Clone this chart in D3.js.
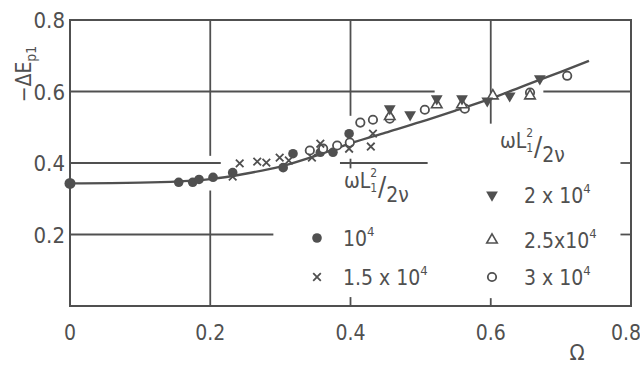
<!DOCTYPE html>
<html>
<head>
<meta charset="utf-8">
<script src="https://cdn.jsdelivr.net/npm/d3@7"></script>
<style>
  body { margin: 0; background: #fff; }
  svg { display: block; }
  text { font-family: "DejaVu Sans Condensed", "Liberation Sans Narrow", "DejaVu Sans", sans-serif; fill: #505050; }
</style>
</head>
<body>
<svg width="640" height="365"></svg>
<script>
// ticks
var xTicks = [0, 0.2, 0.4, 0.6, 0.8];
var yTicks = [0.2, 0.4, 0.6, 0.8];

// fitted curve
var curveOmega = [0, 0.1, 0.2, 0.25, 0.3, 0.35, 0.4, 0.45, 0.5, 0.55, 0.6, 0.65, 0.7, 0.74];
var curveE     = [0.343, 0.345, 0.355, 0.37, 0.39, 0.42, 0.455, 0.485, 0.515, 0.547, 0.58, 0.618, 0.655, 0.686];

// measured points per series
var s1x  = [0.155, 0.175, 0.184, 0.204, 0.232, 0.304, 0.318, 0.357, 0.375, 0.398];
var s1y  = [0.346, 0.346, 0.354, 0.360, 0.373, 0.387, 0.426, 0.430, 0.430, 0.482];
var s15x = [0.232, 0.242, 0.267, 0.280, 0.299, 0.312, 0.345, 0.357, 0.398, 0.429, 0.432];
var s15y = [0.362, 0.399, 0.404, 0.401, 0.415, 0.407, 0.415, 0.454, 0.440, 0.446, 0.482];
var s2x  = [0.456, 0.485, 0.523, 0.559, 0.595, 0.627, 0.670];
var s2y  = [0.552, 0.535, 0.580, 0.580, 0.574, 0.588, 0.636];
var s25x = [0.456, 0.523, 0.559, 0.603, 0.656];
var s25y = [0.530, 0.563, 0.563, 0.588, 0.588];
var s3x  = [0.342, 0.361, 0.381, 0.399, 0.414, 0.432, 0.456, 0.506, 0.563, 0.656, 0.709];
var s3y  = [0.435, 0.440, 0.449, 0.457, 0.513, 0.521, 0.524, 0.549, 0.552, 0.597, 0.644];
var startPoint = [0, 0.343];

// broken grid lines of the original figure (value, from, to)
var hGrid = [[0.6, 0, 0.52], [0.6, 0.675, 0.8], [0.4, 0, 0.215], [0.4, 0.385, 0.51], [0.4, 0.785, 0.8],
             [0.2, 0, 0.29], [0.2, 0.785, 0.8]];
var vGrid = [[0.2, 0, 0.323], [0.2, 0.42, 0.8], [0.4, 0.532, 0.8], [0.4, 0.385, 0.412], [0.4, 0, 0.025],
             [0.6, 0.51, 0.8], [0.6, 0, 0.022]];

var ink = "#505050";
var svg = d3.select("svg");
var x = d3.scaleLinear().domain([0, 0.8]).range([70, 631]);
var y = d3.scaleLinear().domain([0, 0.8]).range([306, 20]);

// frame
svg.append("rect")
    .attr("x", x(0)).attr("y", y(0.8))
    .attr("width", x(0.8) - x(0)).attr("height", y(0) - y(0.8))
    .attr("fill", "none").attr("stroke", ink).attr("stroke-width", 2);

svg.selectAll(".hg").data(hGrid).enter().append("line")
    .attr("x1", d => x(d[1])).attr("x2", d => x(d[2]))
    .attr("y1", d => y(d[0])).attr("y2", d => y(d[0]))
    .attr("stroke", ink).attr("stroke-width", 1.8);
svg.selectAll(".vg").data(vGrid).enter().append("line")
    .attr("x1", d => x(d[0])).attr("x2", d => x(d[0]))
    .attr("y1", d => y(d[1])).attr("y2", d => y(d[2]))
    .attr("stroke", ink).attr("stroke-width", 1.8);

// tick labels
svg.selectAll(".xt").data(xTicks).enter().append("text")
    .attr("x", d => x(d) + (d === 0.8 ? -5 : 0)).attr("y", 340)
    .attr("text-anchor", "middle").attr("font-size", 21)
    .text(d => d === 0 ? "0" : d3.format(".1f")(d));
svg.selectAll(".yt").data(yTicks).enter().append("text")
    .attr("x", 65).attr("y", d => y(d) + 8)
    .attr("text-anchor", "end").attr("font-size", 22)
    .text(d => d3.format(".1f")(d));

// axis titles
svg.append("text").attr("x", 577).attr("y", 360).attr("text-anchor", "middle")
    .attr("font-size", 22).text("Ω");
var yt = svg.append("text").attr("transform", "translate(31,74) rotate(-90)")
    .attr("text-anchor", "middle").attr("font-size", 21);
yt.append("tspan").text("−ΔE");
yt.append("tspan").attr("font-size", 14).attr("dy", 5).text("p1");

// curve
var line = d3.line().curve(d3.curveMonotoneX).x(d => x(d[0])).y(d => y(d[1]));
svg.append("path").datum(curveOmega.map((o, i) => [o, curveE[i]]))
    .attr("d", line).attr("fill", "none").attr("stroke", ink).attr("stroke-width", 2.4);
svg.append("circle").attr("cx", x(startPoint[0])).attr("cy", y(startPoint[1])).attr("r", 5.5).attr("fill", ink);

// markers
var sym = {
  dot:   g => g.append("circle").attr("r", 4.8).attr("fill", ink),
  cross: g => g.append("path").attr("d", "M-3.8,-3.8L3.8,3.8M-3.8,3.8L3.8,-3.8").attr("stroke", ink).attr("stroke-width", 1.8),
  down:  g => g.append("path").attr("d", d3.symbol(d3.symbolTriangle, 60)()).attr("transform", "rotate(180)").attr("fill", ink),
  up:    g => g.append("path").attr("d", d3.symbol(d3.symbolTriangle, 48)()).attr("fill", "#fff").attr("stroke", ink).attr("stroke-width", 1.6),
  ring:  g => g.append("circle").attr("r", 4.2).attr("fill", "#fff").attr("stroke", ink).attr("stroke-width", 1.8)
};

function plotSeries(xs, ys, kind) {
  xs.forEach(function(v, i) {
    var g = svg.append("g").attr("transform", "translate(" + x(v) + "," + y(ys[i]) + ")");
    sym[kind](g);
  });
}
plotSeries(s1x, s1y, "dot");
plotSeries(s3x, s3y, "ring");
plotSeries(s15x, s15y, "cross");
plotSeries(s25x, s25y, "up");
plotSeries(s2x, s2y, "down");

// legend titles  ωL1²/2ν, one text element with stacked scripts
function legendTitle(tx, ty) {
  var t = svg.append("text").attr("x", tx).attr("y", ty).attr("font-size", 21);
  t.append("tspan").text("ωL");
  t.append("tspan").attr("font-size", 12).attr("dy", 4).text("1");
  t.append("tspan").attr("font-size", 12).attr("dx", -7).attr("dy", -15).text("2");
  t.append("tspan").attr("font-size", 27).attr("dx", 1).attr("dy", 19).text("/");
  t.append("tspan").attr("dy", 6).text("2ν");
}
legendTitle(344, 188);
legendTitle(500, 148);

var legL = [["dot", "10"], ["cross", "1.5 x 10"]];
var legR = [["down", "2 x 10"], ["up", "2.5x10"], ["ring", "3 x 10"]];
var legLy = [238, 277];
var legRy = [195, 240, 277];

legL.forEach(function(d, i) {
  var g = svg.append("g").attr("transform", "translate(317," + legLy[i] + ")");
  sym[d[0]](g);
  var t = svg.append("text").attr("x", 343).attr("y", legLy[i] + 8).attr("font-size", 21);
  t.append("tspan").text(d[1]);
  t.append("tspan").attr("font-size", 13).attr("dy", -10).text("4");
});
legR.forEach(function(d, i) {
  var g = svg.append("g").attr("transform", "translate(492," + legRy[i] + ")");
  sym[d[0]](g);
  var t = svg.append("text").attr("x", 524).attr("y", legRy[i] + 8).attr("font-size", 21);
  t.append("tspan").text(d[1]);
  t.append("tspan").attr("font-size", 13).attr("dy", -10).text("4");
});
</script>
</body>
</html>
